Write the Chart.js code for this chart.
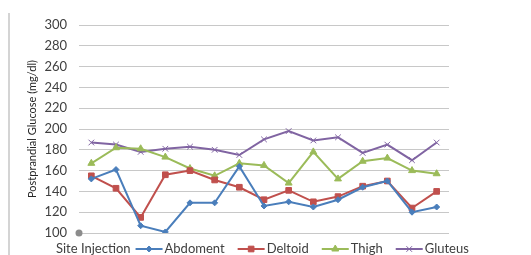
<!DOCTYPE html>
<html>
<head>
<meta charset="utf-8">
<script src="https://cdn.jsdelivr.net/npm/chart.js@4/dist/chart.umd.min.js"></script>
<style>
  html, body { margin: 0; padding: 0; background: #fff; }
  #wrap { position: relative; width: 531px; height: 255px; }
</style>
</head>
<body>
<div id="wrap"><canvas id="chart"></canvas></div>
<script>
const labels = ['1','2','3','4','5','6','7','8','9','10','11','12','13','14','15'];
const abdoment = [152, 161, 107, 101, 129, 129, 164, 126, 130, 125, 132, 144, 150, 120, 125];
const deltoid  = [155, 143, 115, 156, 160, 151, 144, 132, 141, 130, 135, 145, 150, 124, 140];
const thigh    = [167, 182, 181, 173, 162, 155, 167, 165, 148, 178, 152, 169, 172, 160, 157];
const gluteus  = [187, 185, 178, 181, 183, 180, 175, 190, 198, 189, 192, 177, 185, 170, 187];
const yTicks = [100, 300, 20]; // min, max, step

const FONT = 'Lato, "Open Sans", sans-serif';

function series(label, data, color, style, radius) {
  return {
    label: label,
    data: data,
    borderColor: color,
    backgroundColor: color,
    borderWidth: 2,
    tension: 0,
    pointStyle: style,
    pointRadius: radius,
    pointHoverRadius: radius,
    pointBorderWidth: 1
  };
}

// left frame line, origin dot and the bottom legend with "Site Injection" caption
const decor = {
  id: 'decor',
  beforeDraw(chart) {
    const ctx = chart.ctx;
    ctx.save();
    ctx.fillStyle = '#d4d4d4';
    ctx.fillRect(8, 13, 2, 242);
    ctx.restore();
  },
  afterDraw(chart) {
    const ctx = chart.ctx;
    const area = chart.chartArea;
    ctx.save();
    ctx.fillStyle = '#8c8c8c';
    ctx.beginPath();
    ctx.arc(area.left, area.bottom, 3.5, 0, Math.PI * 2);
    ctx.fill();

    ctx.font = '13px ' + FONT;
    ctx.textBaseline = 'middle';
    ctx.fillStyle = '#404040';
    const y = 249;
    let x = 56;
    ctx.fillText('Site Injection', x, y);
    x += ctx.measureText('Site Injection').width + 5;
    chart.data.datasets.forEach(ds => {
      ctx.strokeStyle = ds.borderColor;
      ctx.fillStyle = ds.backgroundColor;
      ctx.lineWidth = 2;
      ctx.beginPath();
      ctx.moveTo(x, y);
      ctx.lineTo(x + 27, y);
      ctx.stroke();
      ctx.lineWidth = 1;
      Chart.helpers.drawPoint(ctx, {pointStyle: ds.pointStyle, radius: ds.pointRadius, borderWidth: 1, rotation: 0}, x + 13.5, y);
      x += 29;
      ctx.fillStyle = '#404040';
      ctx.fillText(ds.label, x, y);
      x += ctx.measureText(ds.label).width + 13;
    });
    ctx.restore();
  }
};

new Chart(document.getElementById('chart'), {
  type: 'line',
  data: {
    labels: labels,
    datasets: [
      series('Abdoment', abdoment, '#4a7ebb', 'rectRot', 3),
      series('Deltoid', deltoid, '#c0504d', 'rect', 4),
      series('Thigh', thigh, '#9bbb59', 'triangle', 4),
      series('Gluteus', gluteus, '#8064a2', 'crossRot', 4)
    ]
  },
  options: {
    responsive: true,
    maintainAspectRatio: false,
    animation: false,
    layout: { padding: { top: 25, right: 82, bottom: 22, left: 0 } },
    plugins: {
      legend: { display: false },
      tooltip: { enabled: false }
    },
    scales: {
      x: { display: false, offset: true },
      y: {
        min: yTicks[0],
        max: yTicks[1],
        afterFit(scale) { scale.width = 79; },
        ticks: {
          stepSize: yTicks[2],
          padding: 12,
          color: '#404040',
          font: { family: FONT, size: 13 }
        },
        grid: { color: '#c8c8c8', drawTicks: false },
        border: { display: false },
        title: {
          display: true,
          text: 'Postprandial Glucose (mg/dl)',
          color: '#262626',
          font: { family: FONT, size: 11 },
          padding: { top: 26, bottom: 0 }
        }
      }
    }
  },
  plugins: [decor]
});
</script>
</body>
</html>
